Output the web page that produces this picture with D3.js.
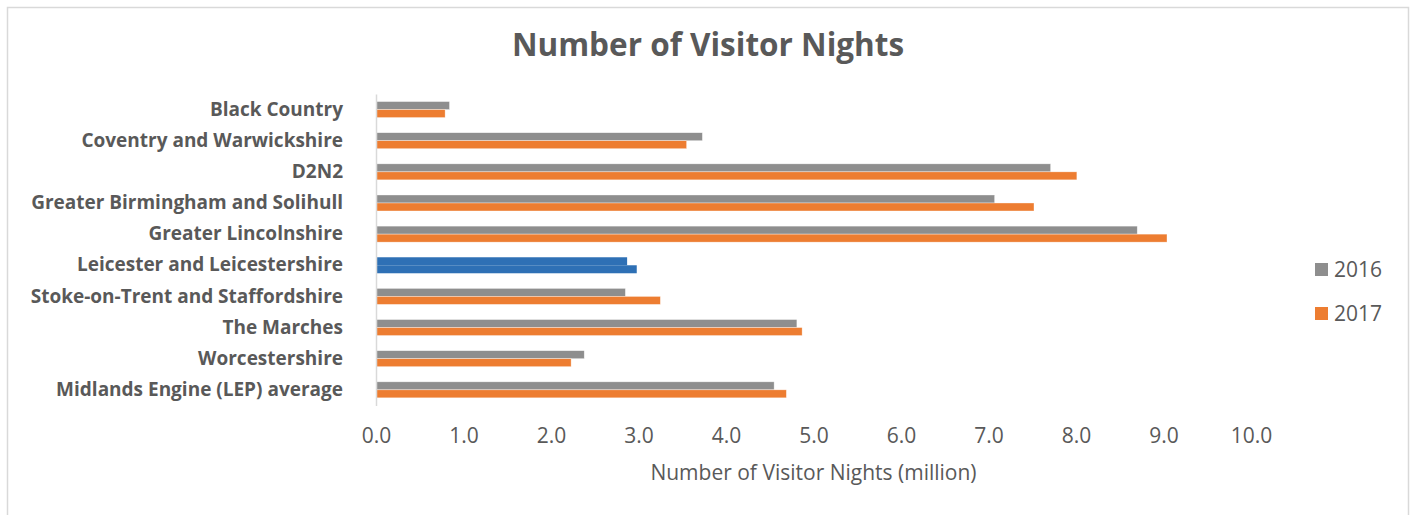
<!DOCTYPE html>
<html>
<head>
<meta charset="utf-8">
<script src="https://cdn.jsdelivr.net/npm/d3@7"></script>
<style>
  body { margin: 0; background: #fff; }
  text { font-family: "Open Sans", sans-serif; fill: #595959; }
</style>
</head>
<body>
<svg id="chart" width="1413" height="515"></svg>
<script>
// data (million visitor nights)
const regions = [
  "Black Country",
  "Coventry and Warwickshire",
  "D2N2",
  "Greater Birmingham and Solihull",
  "Greater Lincolnshire",
  "Leicester and Leicestershire",
  "Stoke-on-Trent and Staffordshire",
  "The Marches",
  "Worcestershire",
  "Midlands Engine (LEP) average"
];
const years = ["2016", "2017"];
const nights2016 = [0.84, 3.73, 7.71, 7.07, 8.70, 2.87, 2.85, 4.81, 2.38, 4.55];
const nights2017 = [0.79, 3.55, 8.01, 7.52, 9.04, 2.98, 3.25, 4.87, 2.23, 4.69];
const xTicks = [0, 1, 2, 3, 4, 5, 6, 7, 8, 9, 10];
const highlight = "Leicester and Leicestershire";

var svg = d3.select("#chart");

// chart border
svg.append("rect")
   .attr("x", 7.5).attr("y", 7.5)
   .attr("width", 1401).attr("height", 520)
   .attr("fill", "none")
   .attr("stroke", "#d9d9d9")
   .attr("stroke-width", 1.5);

var x = d3.scaleLinear().domain([0, 10]).range([376, 1251]);

var y = d3.scaleBand()
          .domain(regions)
          .range([94, 405.4])
          .paddingInner(0.486)
          .paddingOuter(0.243);

var y1 = d3.scaleBand().domain(years).range([0, y.bandwidth()]);

var color = d3.scaleOrdinal().domain(years).range(["#8e8e8e", "#ed7d31"]);

var rows = regions.map(function(r, i) {
  return { region: r, values: [
    { year: "2016", value: nights2016[i] },
    { year: "2017", value: nights2017[i] }
  ]};
});

// title
svg.append("text")
   .attr("x", 708).attr("y", 56)
   .attr("text-anchor", "middle")
   .style("font-size", "31.5px")
   .style("font-weight", "bold")
   .text("Number of Visitor Nights");

// bars
var group = svg.selectAll(".row")
               .data(rows)
               .enter()
               .append("g")
               .attr("class", "row")
               .attr("transform", function(d) { return "translate(0," + y(d.region) + ")"; });

group.selectAll("rect")
     .data(function(d) { return d.values.map(function(v) { return { region: d.region, year: v.year, value: v.value }; }); })
     .enter()
     .append("rect")
     .attr("x", x(0))
     .attr("y", function(d) { return y1(d.year); })
     .attr("width", function(d) { return x(d.value) - x(0); })
     .attr("height", y1.bandwidth())
     .attr("fill", function(d) { return d.region === highlight ? "#2e70b5" : color(d.year); })
     .attr("stroke", function(d) { return d.region === highlight ? "none" : "#fff"; })
     .attr("stroke-opacity", 0.6)
     .attr("stroke-width", 0.6);

// category axis
var yAxis = svg.append("g")
               .attr("transform", "translate(" + x(0) + ",0)")
               .call(d3.axisLeft(y).tickSize(0).tickPadding(33));
yAxis.select(".domain").attr("stroke", "#d9d9d9").attr("stroke-width", 1.5);
yAxis.selectAll("text")
     .style("font-size", "19px")
     .style("font-weight", "bold")
     .style("font-family", "'Open Sans', sans-serif")
     .attr("fill", "#595959");

// value axis (labels only)
var xAxis = svg.append("g")
               .attr("transform", "translate(0,425)")
               .call(d3.axisBottom(x).tickValues(xTicks).tickFormat(d3.format(".1f")).tickSize(0));
xAxis.select(".domain").remove();
xAxis.selectAll("text")
     .style("font-size", "21px")
     .style("font-family", "'Open Sans', sans-serif")
     .attr("fill", "#595959");

svg.append("text")
   .attr("x", (x(0) + x(10)) / 2).attr("y", 480)
   .attr("text-anchor", "middle")
   .style("font-size", "21px")
   .text("Number of Visitor Nights (million)");

// legend
var legend = svg.selectAll(".legend")
                .data(years)
                .enter()
                .append("g")
                .attr("class", "legend")
                .attr("transform", function(d, i) { return "translate(1315," + (263 + i * 44) + ")"; });

legend.append("rect")
      .attr("width", 13).attr("height", 13)
      .attr("fill", function(d) { return color(d); });

legend.append("text")
      .attr("x", 19).attr("y", 6.5)
      .attr("dy", "0.35em")
      .style("font-size", "21px")
      .text(function(d) { return d; });
</script>
</body>
</html>
